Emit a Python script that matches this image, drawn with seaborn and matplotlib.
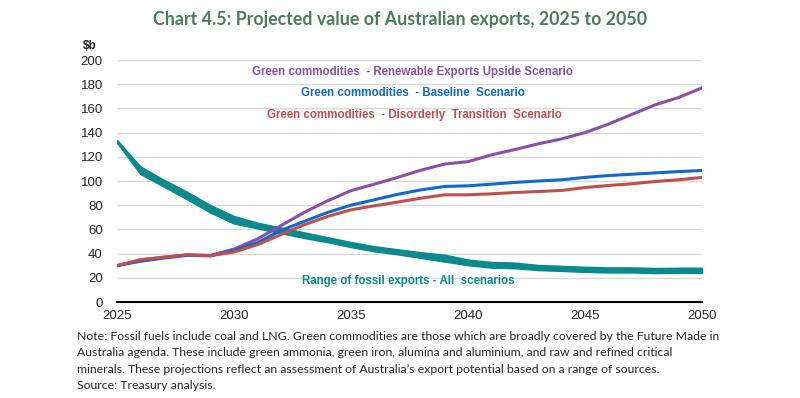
import numpy as np
import pandas as pd
import matplotlib
matplotlib.use("Agg")
import matplotlib.pyplot as plt
import seaborn as sns

years = list(range(2025, 2051))
upside = [30, 34.4, 37, 39, 38.5, 43.7, 52, 63, 74, 83.6, 92, 97.4, 103, 109, 114, 116,
          121.6, 126, 130.7, 134.8, 140, 147, 155, 163, 169, 177]
baseline = [30, 33.6, 36.3, 38.5, 38.2, 42.6, 49, 59, 66.6, 74, 80, 84.5, 89, 92.7, 95.5, 96,
            97.4, 98.8, 100, 101, 103, 104.5, 105.6, 106.7, 107.8, 108.7]
disorderly = [30, 35, 37, 39, 38.2, 41.3, 47.3, 55.6, 63.8, 70.7, 76.2, 79.5, 82.6, 85.8, 88.6, 88.6,
              89.4, 90.5, 91.3, 92.2, 94.6, 96.3, 97.7, 99.6, 101, 103]
fossil_high = [134, 112, 101, 91, 80, 71, 65.5, 61.5, 57.5, 53.5, 49.5, 46, 43.5, 41, 39, 35,
               33, 32.5, 30.5, 29.8, 29, 28.5, 28.5, 28, 28.2, 28.2]
fossil_low = [132, 106, 95.5, 85, 74, 65, 61, 57, 53, 49.5, 45.5, 42, 39.5, 36.5, 33.5, 30.5,
              28.5, 28, 26.5, 25.8, 25, 24.5, 24.5, 24, 24.2, 24.2]

labels = {
    "upside": "Green commodities  - Renewable Exports Upside Scenario",
    "baseline": "Green commodities  - Baseline  Scenario",
    "disorderly": "Green commodities  - Disorderly  Transition  Scenario",
    "fossil": "Range of fossil exports - All  scenarios",
}
yticks = list(range(0, 201, 20))
xticks = [2025, 2030, 2035, 2040, 2045, 2050]
title = "Chart 4.5: Projected value of Australian exports, 2025 to 2050"
note = ("Note: Fossil fuels include coal and LNG. Green commodities are those which are broadly covered by the Future Made in\n"
        "Australia agenda. These include green ammonia, green iron, alumina and aluminium, and raw and refined critical\n"
        "minerals. These projections reflect an assessment of Australia\u2019s export potential based on a range of sources.\n"
        "Source: Treasury analysis.")

C_PURPLE = "#8b4fa9"
C_BLUE = "#1168cf"
C_RED = "#c0504d"
C_TEAL = "#0b8a8e"

sns.set_theme(style="white")
plt.rcParams['font.family'] = ['Liberation Sans', 'DejaVu Sans']

df = pd.DataFrame({"year": years, "upside": upside, "baseline": baseline, "disorderly": disorderly})
long = df.melt(id_vars="year", var_name="scenario", value_name="value")

fig = plt.figure(figsize=(8, 3.98), dpi=100)
ax = fig.add_axes([0.146, 0.2412, 0.7315, 0.608])

ax.fill_between(years, fossil_low, fossil_high, color=C_TEAL, lw=1.2, edgecolor=C_TEAL, zorder=3)
sns.lineplot(data=long, x="year", y="value", hue="scenario",
             palette={"upside": C_PURPLE, "baseline": C_BLUE, "disorderly": C_RED},
             hue_order=["upside", "baseline", "disorderly"], linewidth=2.2, legend=False, ax=ax, zorder=4)

ax.set_xlim(2025, 2050)
ax.set_ylim(0, 200)
ax.set_yticks(yticks)
ax.set_xticks(xticks)
ax.grid(axis="y", color="#d9d9d9", lw=1)
ax.set_axisbelow(True)
for s in ["left", "right", "top"]:
    ax.spines[s].set_visible(False)
ax.spines["bottom"].set_color("black")
ax.spines["bottom"].set_linewidth(1.5)
ax.spines["bottom"].set_zorder(5)
ax.tick_params(axis="x", direction="out", length=4, width=1, color="black", labelsize=9.5, pad=2)
ax.tick_params(axis="y", length=0, labelsize=9.5, pad=10)
ax.set_xlabel("")
ax.set_ylabel("")

ax.text(2037.65, 190, labels["upside"], color=C_PURPLE, fontsize=8.3, fontweight="bold", ha="center", va="center")
ax.text(2037.65, 172.5, labels["baseline"], color=C_BLUE, fontsize=8.3, fontweight="bold", ha="center", va="center")
ax.text(2037.7, 154.5, labels["disorderly"], color=C_RED, fontsize=8.3, fontweight="bold", ha="center", va="center")
ax.text(2037.45, 17.5, labels["fossil"], color=C_TEAL, fontsize=8.3, fontweight="bold", ha="center", va="center")

fig.text(83 / 800, 1 - 46 / 398, "$b", fontsize=8.5, fontweight="bold", ha="left", va="center")
fig.text(400 / 800, 1 - 20 / 398, title, fontsize=12.8, fontweight="bold", color="#4b7c5f",
         ha="center", va="center", family="Lato")
fig.text(77 / 800, 1 - 331 / 398, note, fontsize=8.85, ha="left", va="top", family="Lato", linespacing=1.6)

fig.savefig("out.png", dpi=100, facecolor="white")
